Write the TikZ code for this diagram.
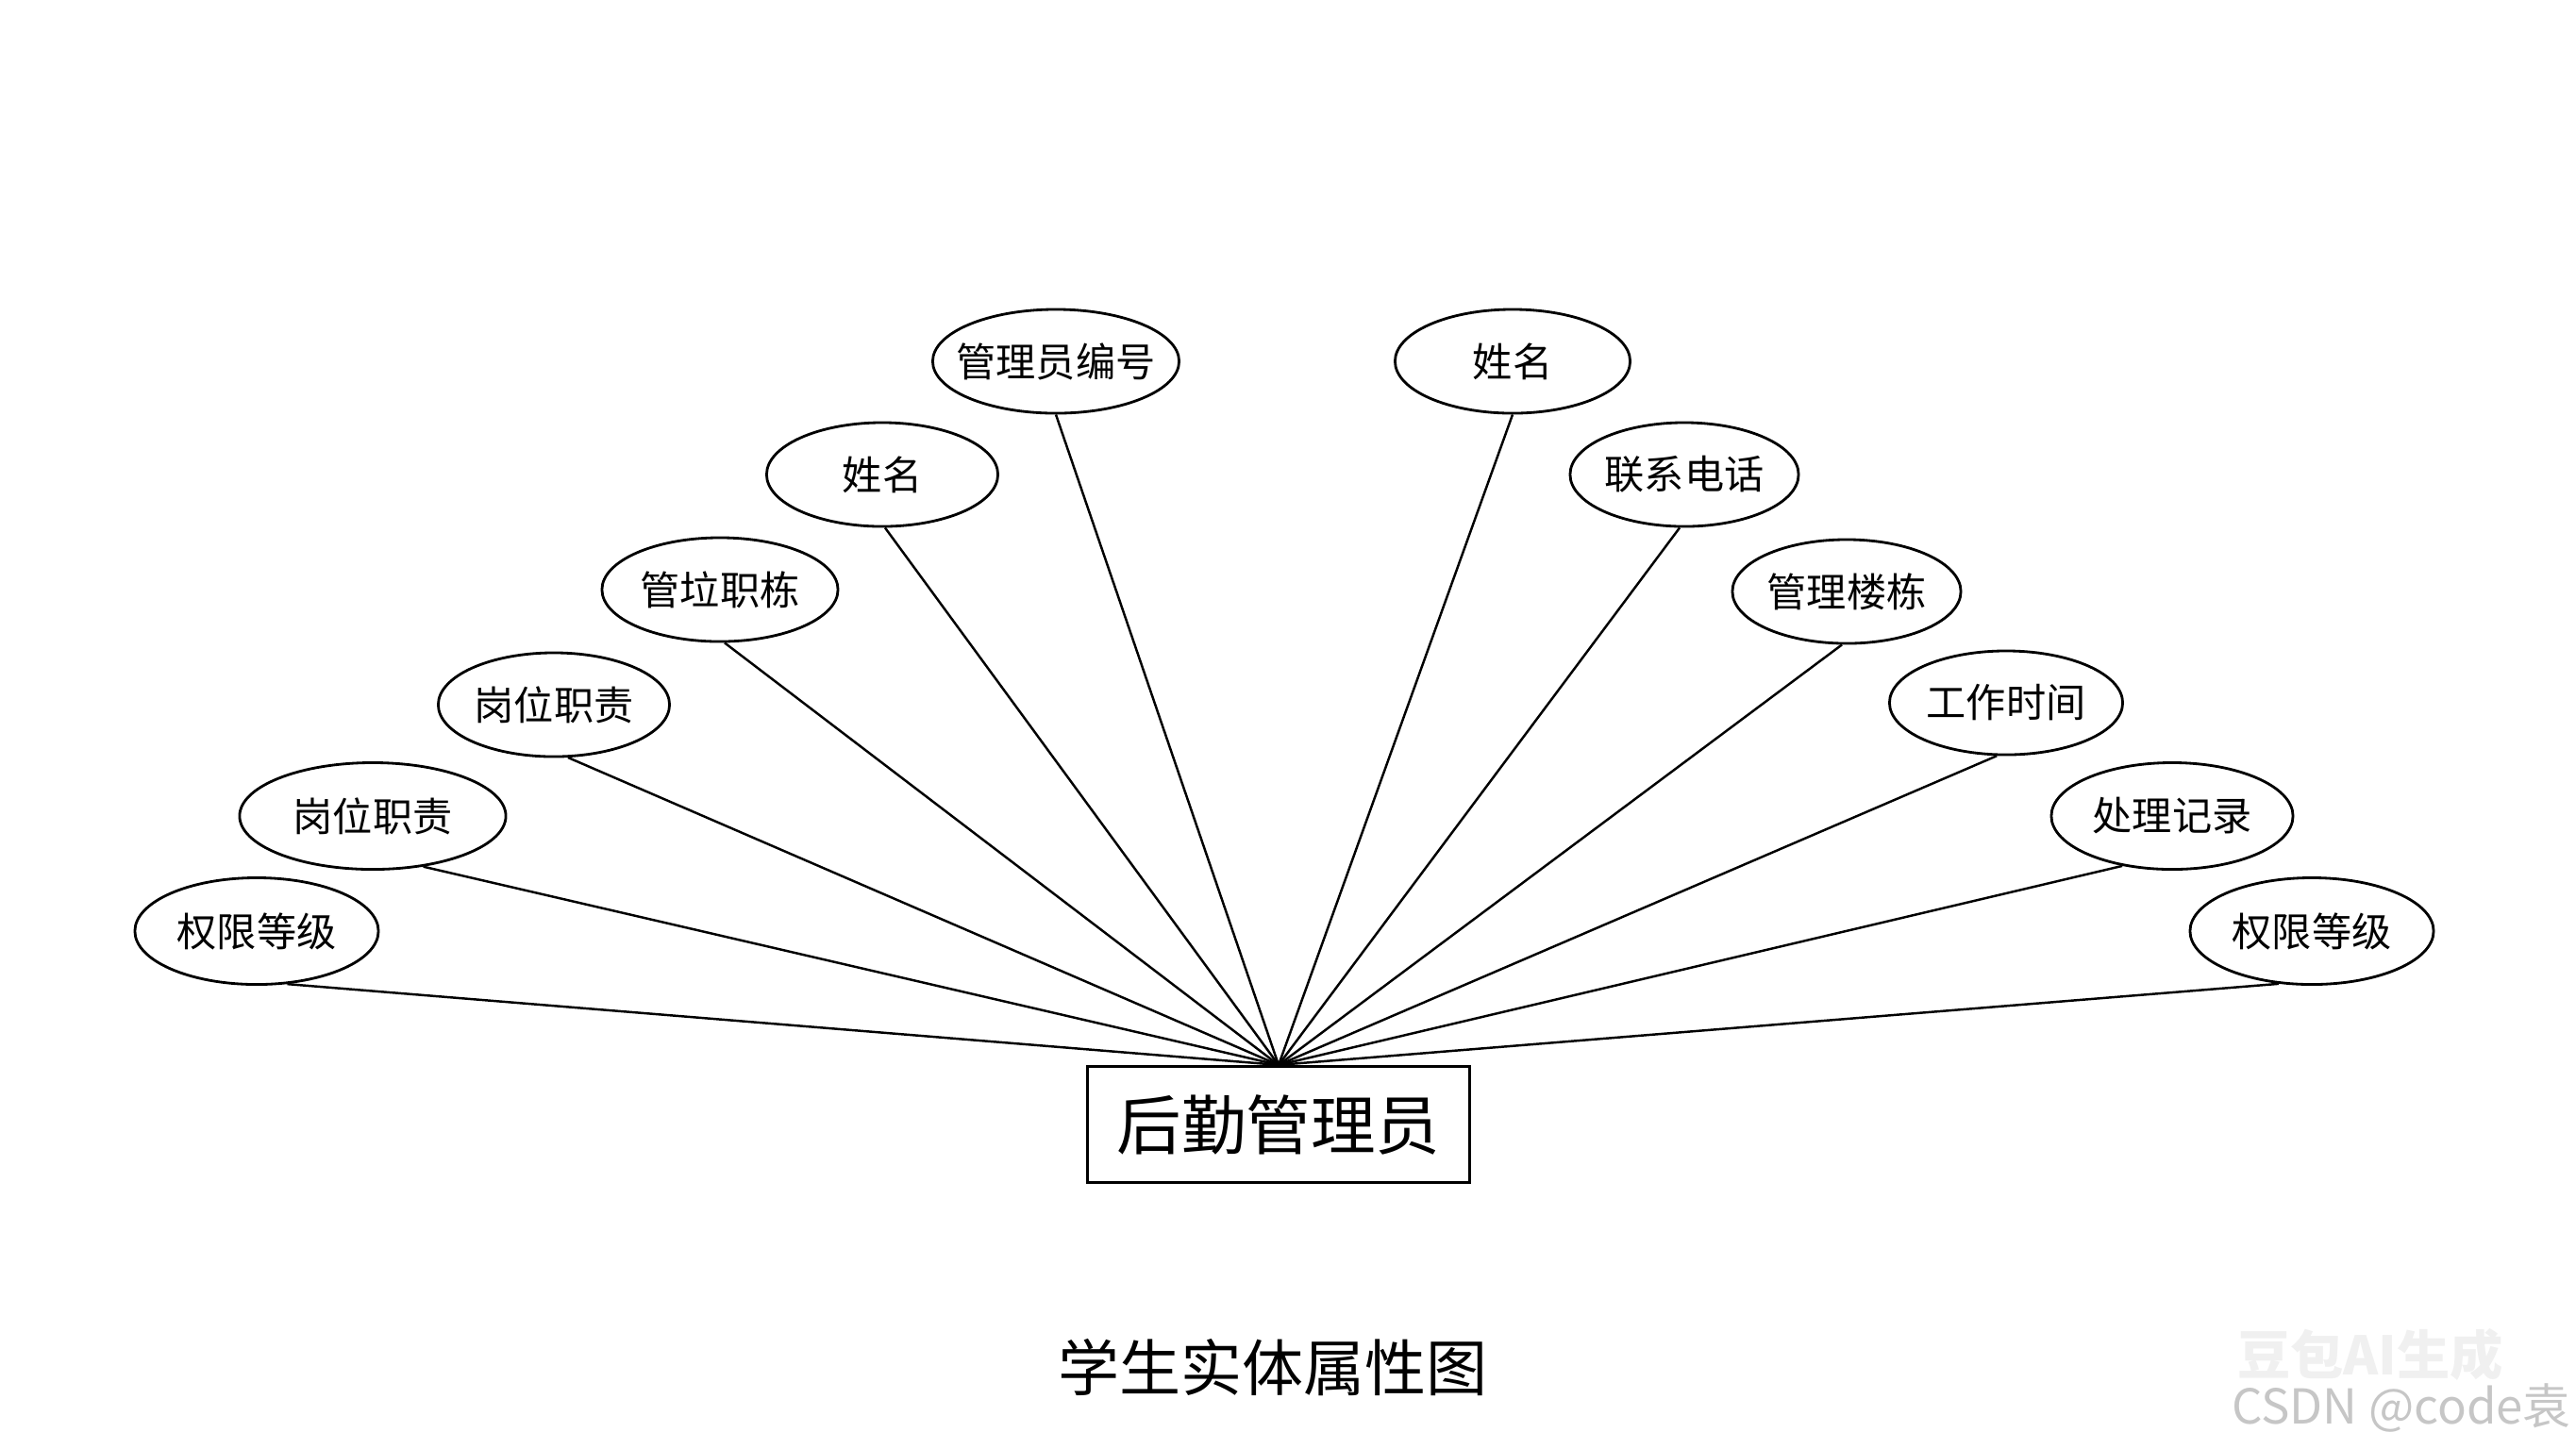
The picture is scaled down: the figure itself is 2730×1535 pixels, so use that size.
\documentclass[tikz,border=0pt]{standalone}
\usepackage{fontspec}
\setmainfont{Noto Sans CJK SC}
\usepackage{xcolor}
\usetikzlibrary{shapes.geometric}

\begin{document}
\begin{tikzpicture}[x=0.01cm, y=-0.01cm,
                    attr/.style={draw, ellipse, line width=0.8pt, inner sep=0pt,
                                 minimum width=2.45cm, minimum height=1.1cm,
                                 font=\fontsize{12}{14}\selectfont},
                    entity/.style={draw, rectangle, line width=0.9pt,
                                   minimum width=4.04cm, minimum height=1.23cm,
                                   font=\fontsize{19.5}{22}\selectfont},
                    link/.style={line width=0.7pt},
                    wmark/.style={inner sep=0pt, font=\fontsize{14.5}{16}\selectfont}]
    \useasboundingbox (0,0) rectangle (2730,1535);

    % entity
    \node[entity] (mgr) at (1355,1192) {后勤管理员};

    % attributes, left half
    \node[attr, inner xsep=-0.2cm, minimum width=2.61cm] (id) at (1119,383) {管理员编号};
    \node[attr] (nameL) at (935,503) {姓名};
    \node[attr, minimum width=2.5cm] (bldgL) at (763,625) {管垃职栋};
    \node[attr] (dutyU) at (587,747) {岗位职责};
    \node[attr, minimum width=2.82cm, minimum height=1.13cm] (dutyL) at (395,865) {岗位职责};
    \node[attr, minimum width=2.58cm, minimum height=1.13cm] (permL) at (272,987) {权限等级};

    % attributes, right half
    \node[attr, minimum width=2.49cm] (nameR) at (1603,383) {姓名};
    \node[attr, minimum width=2.42cm] (phone) at (1785,503) {联系电话};
    \node[attr, minimum width=2.42cm] (bldgR) at (1957,627) {管理楼栋};
    \node[attr, minimum width=2.47cm] (work) at (2126,745) {工作时间};
    \node[attr, minimum width=2.56cm, minimum height=1.13cm] (log) at (2302,865) {处理记录};
    \node[attr, minimum width=2.58cm, minimum height=1.13cm] (permR) at (2450,987) {权限等级};

    \coordinate (hub) at (mgr.north);

    \draw[link] (id.-90) -- (hub);
    \draw[link] (nameL.-87) -- (hub);
    \draw[link] (bldgL.-85) -- (hub);
    \draw[link] (dutyU.-75) -- (hub);
    \draw[link] (dutyL.-45) -- (hub);
    \draw[link] (permL.-60) -- (hub);
    \draw[link] (nameR.-90) -- (hub);
    \draw[link] (phone.-95) -- (hub);
    \draw[link] (bldgR.-95) -- (hub);
    \draw[link] (work.-100) -- (hub);
    \draw[link] (log.-135) -- (hub);
    \draw[link] (permR.-122) -- (hub);

    % caption
    \node[font=\fontsize{18.5}{22}\selectfont] (title) at (1349,1449) {学生实体属性图};

    % watermark
    \node[wmark, font=\bfseries\fontsize{16}{18}\selectfont, text=gray!12] (wmA) at (2512,1436) {豆包AI生成};
    \node[wmark, text=gray!45] (wmB) at (2545,1492) {CSDN @code袁};
\end{tikzpicture}
\end{document}
